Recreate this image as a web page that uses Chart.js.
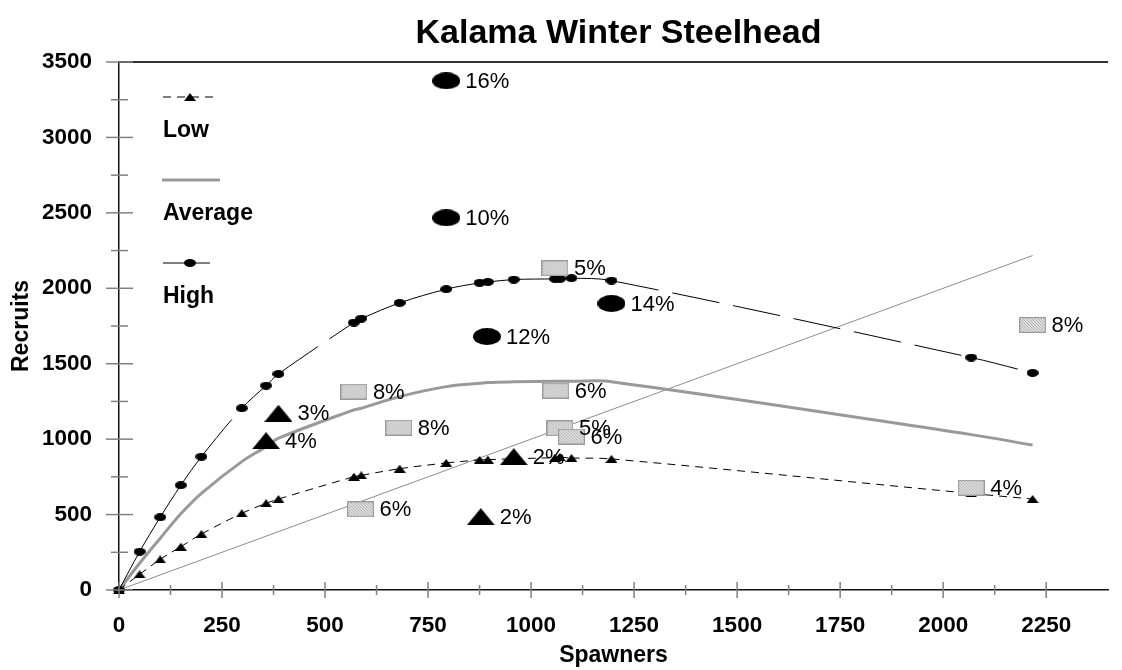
<!DOCTYPE html>
<html><head><meta charset="utf-8">
<script src="https://cdn.jsdelivr.net/npm/chart.js@4.4.0/dist/chart.umd.min.js"></script>
<style>
html,body{margin:0;padding:0;background:#fff;overflow:hidden;width:1122px;height:670px}
#wrap{position:absolute;left:0;top:0;width:1130px;height:670px}
</style></head>
<body><div id="wrap"><canvas id="c" width="1130" height="670"></canvas></div>
<script>
// ---------- data ----------
const chartTitle = 'Kalama Winter Steelhead';
const xAxisTitle = 'Spawners';
const yAxisTitle = 'Recruits';
const seriesNames = ['Low', 'Average', 'High'];

const spawners  = [0, 50, 100, 150, 200, 298, 357, 387, 570, 588, 681, 794, 875, 895, 958, 1058, 1070, 1098, 1195, 2068, 2217];
const lowCurve  = [0, 104, 203, 287, 371, 508, 575, 603, 751, 760, 804, 842, 862, 864, 870, 877, 880, 875, 869, 640, 603];
const avgCurve  = [0, 177, 343, 505, 641, 851, 950, 1006, 1194, 1205, 1282, 1348, 1370, 1376, 1380, 1383, 1383, 1383, 1381, 1030, 961];
const highCurve = [0, 254, 482, 694, 884, 1205, 1355, 1432, 1773, 1799, 1903, 1994, 2036, 2042, 2058, 2062, 2062, 2067, 2051, 1541, 1439];
const replacementSpawners = [0, 2217];

const lowSurvSpawners = [387, 357, 958, 878];
const lowSurvRecruits = [1172, 990, 884, 486];
const lowSurvRates    = ['3%', '4%', '2%', '2%'];

const avgSurvSpawners = [570, 679, 586, 1060, 1070, 1098, 1058, 2217, 2068];
const avgSurvRecruits = [1315, 1076, 535, 1322, 1072, 1017, 2133, 1757, 678];
const avgSurvRates    = ['8%', '8%', '6%', '6%', '5%', '6%', '5%', '8%', '4%'];

const highSurvSpawners = [794, 794, 893, 1195];
const highSurvRecruits = [3375, 2467, 1680, 1899];
const highSurvRates    = ['16%', '10%', '12%', '14%'];

const xTickLabels = ['0', '250', '500', '750', '1000', '1250', '1500', '1750', '2000', '2250'];
const yTickLabels = ['0', '500', '1000', '1500', '2000', '2500', '3000', '3500'];

// ---------- marker images ----------
function mk(w, h, fn){ const c = document.createElement('canvas'); c.width = w; c.height = h; fn(c.getContext('2d'), w, h); return c; }
function ellipse(w, h){ return mk(w, h, (g, w, h) => { g.fillStyle = '#000'; g.beginPath(); g.ellipse(w/2, h/2, w/2, h/2, 0, 0, Math.PI*2); g.fill(); }); }
function triangle(w, h){ return mk(w, h, (g, w, h) => { g.fillStyle = '#000'; g.beginPath(); g.moveTo(w/2, 0); g.lineTo(w, h); g.lineTo(0, h); g.closePath(); g.fill(); }); }
function hatchBox(w, h){ return mk(w, h, (g, w, h) => {
  g.fillStyle = '#e4e4e4'; g.fillRect(0, 0, w, h);
  g.strokeStyle = '#a8a8a8'; g.lineWidth = 1;
  for (let k = -h; k < w + h; k += 3){ g.beginPath(); g.moveTo(k, 0); g.lineTo(k + h, h); g.stroke(); }
  g.strokeStyle = '#9a9a9a'; g.lineWidth = 1.2; g.strokeRect(0.6, 0.6, w - 1.2, h - 1.2);
}); }
const bigTri = triangle(28, 17), bigEll = ellipse(28, 17), box = hatchBox(27, 16);
const smallTri = triangle(12, 8), smallEll = ellipse(12, 8);

const pts = (xs, ys) => xs.map((x, i) => ({x, y: ys[i]}));
// restart the dash pattern at every data point (each segment stroked on its own)
const perPointDash = { borderDashOffset: c => (c.p0DataIndex % 2) * 0.001 };

// ---------- plugin ----------
const decor = {
  id: 'decor',
  afterDatasetsDraw(chart){
    const ctx = chart.ctx;
    ctx.save();
    ctx.font = '22px "Liberation Sans", Arial, sans-serif';
    ctx.fillStyle = '#000'; ctx.textAlign = 'left'; ctx.textBaseline = 'middle';
    chart.data.datasets.forEach((ds, di) => {
      if (!ds.rateLabels) return;
      chart.getDatasetMeta(di).data.forEach((el, i) => ctx.fillText(ds.rateLabels[i], el.x + 19, el.y + 1));
    });
    ctx.restore();
  },
  afterDraw(chart){
    const ctx = chart.ctx, a = chart.chartArea, xs = chart.scales.x, ys = chart.scales.y;
    ctx.save();
    // top border
    ctx.strokeStyle = '#333'; ctx.lineWidth = 2;
    ctx.beginPath(); ctx.moveTo(a.left, a.top); ctx.lineTo(a.right, a.top); ctx.stroke();
    // tick marks
    ctx.strokeStyle = '#808080'; ctx.lineWidth = 1.5;
    xs.ticks.forEach(t => {
      if (t.value > xs.max - 1) return;
      const p = xs.getPixelForValue(t.value), major = t.value % 250 === 0, L = major ? 8 : 5;
      ctx.beginPath(); ctx.moveTo(p, a.bottom - L); ctx.lineTo(p, a.bottom + L); ctx.stroke();
    });
    ys.ticks.forEach(t => {
      const p = ys.getPixelForValue(t.value), major = t.value % 500 === 0;
      ctx.beginPath(); ctx.moveTo(a.left - (major ? 13 : 8), p); ctx.lineTo(a.left + (major ? 14 : 9), p); ctx.stroke();
    });
    // title
    ctx.fillStyle = '#000'; ctx.textAlign = 'center'; ctx.textBaseline = 'alphabetic';
    ctx.font = 'bold 34px "Liberation Sans", Arial, sans-serif';
    ctx.fillText(chartTitle, (a.left + a.right) / 2 + 5, 43);
    // legend
    const dsBy = n => chart.data.datasets.find(d => d.label === n);
    ctx.font = 'bold 23px "Liberation Sans", Arial, sans-serif';
    ctx.textAlign = 'left'; ctx.textBaseline = 'middle';
    const lx = 163;
    const low = dsBy(seriesNames[0]);
    ctx.strokeStyle = low.borderColor; ctx.lineWidth = 1; ctx.setLineDash(low.borderDash);
    ctx.beginPath(); ctx.moveTo(lx, 97); ctx.lineTo(lx + 54, 97); ctx.stroke(); ctx.setLineDash([]);
    ctx.drawImage(smallTri, 190 - 6, 97 - 4);
    ctx.fillText(seriesNames[0], lx, 131);
    const avg = dsBy(seriesNames[1]);
    ctx.strokeStyle = avg.borderColor; ctx.lineWidth = 3;
    ctx.beginPath(); ctx.moveTo(lx - 1, 180); ctx.lineTo(lx + 57, 180); ctx.stroke();
    ctx.fillText(seriesNames[1], lx, 214);
    const high = dsBy(seriesNames[2]);
    ctx.strokeStyle = high.borderColor; ctx.lineWidth = 1;
    ctx.beginPath(); ctx.moveTo(lx, 263); ctx.lineTo(lx + 47, 263); ctx.stroke();
    ctx.drawImage(smallEll, 190 - 6, 263 - 4);
    ctx.fillText(seriesNames[2], lx, 297);
    ctx.restore();
  }
};

Chart.defaults.font.family = '"Liberation Sans", Arial, sans-serif';
Chart.defaults.color = '#000';

new Chart(document.getElementById('c'), {
  type: 'scatter',
  data: { datasets: [
    { label: 'Low survival', data: pts(lowSurvSpawners, lowSurvRecruits), pointStyle: bigTri, pointRadius: 8, showLine: false, rateLabels: lowSurvRates, clip: false },
    { label: 'High survival', data: pts(highSurvSpawners, highSurvRecruits), pointStyle: bigEll, pointRadius: 8, showLine: false, rateLabels: highSurvRates, clip: false },
    { label: 'Average survival', data: pts(avgSurvSpawners, avgSurvRecruits), pointStyle: box, pointRadius: 8, showLine: false, rateLabels: avgSurvRates, clip: false },
    { label: seriesNames[2], data: pts(spawners, highCurve), showLine: true, borderColor: '#000', borderWidth: 1, borderDash: [48, 14],
      segment: perPointDash, pointStyle: smallEll, pointRadius: 5, tension: 0.35, clip: false },
    { label: seriesNames[0], data: pts(spawners, lowCurve), showLine: true, borderColor: '#000', borderWidth: 1, borderDash: [8, 6],
      segment: perPointDash, pointStyle: smallTri, pointRadius: 5, tension: 0.35, clip: false },
    { label: seriesNames[1], data: pts(spawners, avgCurve), showLine: true, borderColor: '#999999', borderWidth: 3,
      pointRadius: 0, tension: 0.35, clip: false },
    { label: 'Replacement', data: pts(replacementSpawners, replacementSpawners), showLine: true, borderColor: '#8c8c8c', borderWidth: 1, pointRadius: 0 }
  ]},
  options: {
    responsive: false, animation: false,
    layout: { padding: { top: 62, right: 3, left: 0, bottom: 0 } },
    plugins: { legend: { display: false }, tooltip: { enabled: false }, title: { display: false } },
    scales: {
      x: { type: 'linear', min: 0, max: 2400,
        afterFit(s){ s.height = 80; },
        grid: { display: false, drawTicks: false },
        border: { display: true, color: '#111', width: 1.5 },
        ticks: { stepSize: 125, autoSkip: false, maxRotation: 0, padding: 22,
          font: { size: 22.5, weight: 'bold' }, color: '#000',
          callback: v => xTickLabels.includes(String(v)) ? String(v) : '' },
        title: { display: true, text: xAxisTitle, font: { size: 23, weight: 'bold' }, color: '#000', padding: { top: 0, bottom: 1 } }
      },
      y: { type: 'linear', min: 0, max: 3500,
        afterFit(s){ s.width = 119; },
        grid: { display: false, drawTicks: false },
        border: { display: true, color: '#111', width: 1.5 },
        ticks: { stepSize: 250, autoSkip: false, padding: 27,
          font: { size: 22.5, weight: 'bold' }, color: '#000',
          callback: v => yTickLabels.includes(String(v)) ? String(v) : '' },
        title: { display: true, text: yAxisTitle, font: { size: 23, weight: 'bold' }, color: '#000', padding: { top: 8, bottom: 0 } }
      }
    }
  },
  plugins: [decor]
});
</script>
</body></html>
